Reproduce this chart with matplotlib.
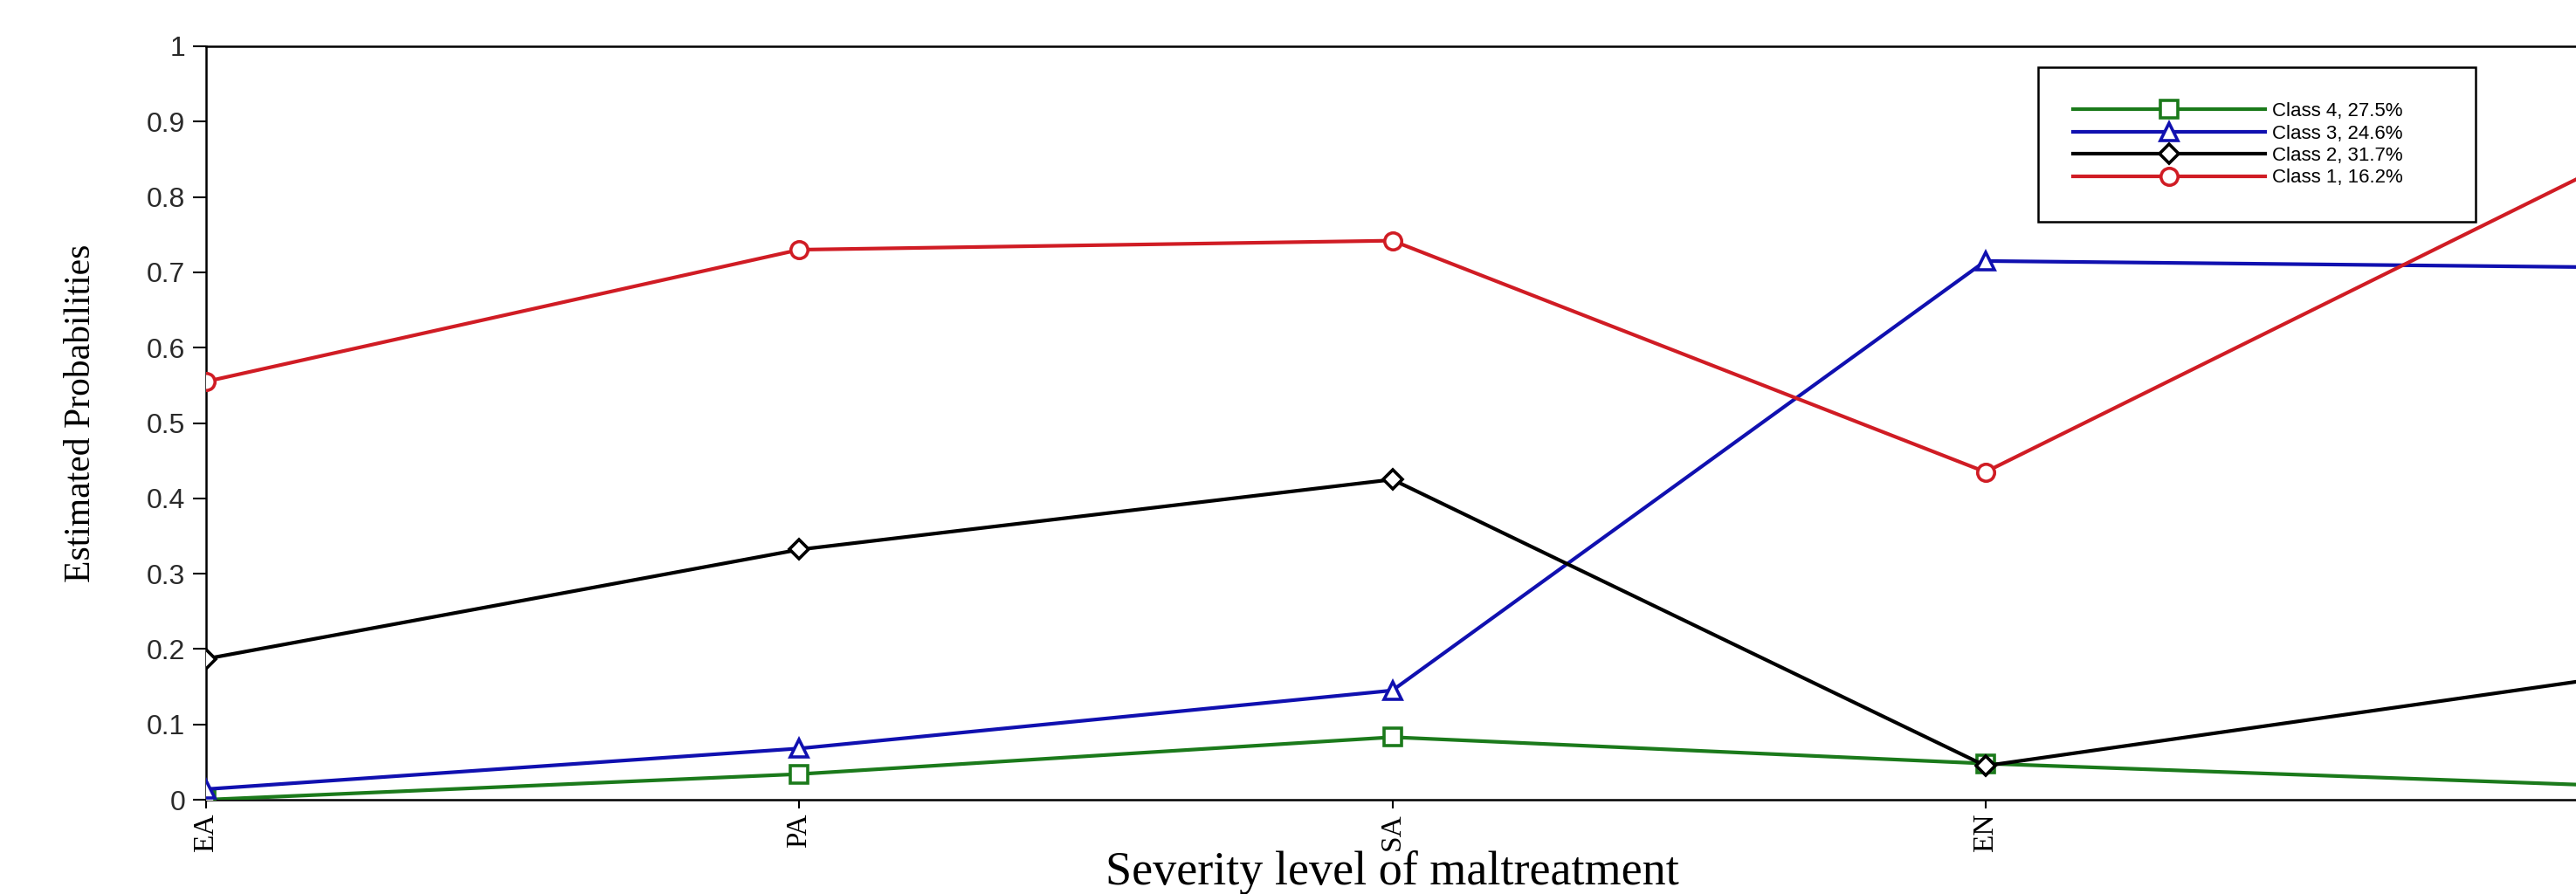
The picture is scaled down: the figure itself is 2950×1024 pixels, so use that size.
import matplotlib
matplotlib.use("Agg")
import matplotlib.pyplot as plt

# ---- data ----
categories = ["EA", "PA", "SA", "EN", "PN"]
class1 = [0.555, 0.730, 0.742, 0.435, 0.825]
class2 = [0.187, 0.332, 0.425, 0.045, 0.157]
class3 = [0.014, 0.068, 0.145, 0.715, 0.707]
class4 = [0.000, 0.034, 0.083, 0.048, 0.020]
labels = ["Class 1, 16.2%", "Class 2, 31.7%", "Class 3, 24.6%", "Class 4, 27.5%"]
yticks = [0, 0.1, 0.2, 0.3, 0.4, 0.5, 0.6, 0.7, 0.8, 0.9, 1]
ytick_labels = ["0", "0.1", "0.2", "0.3", "0.4", "0.5", "0.6", "0.7", "0.8", "0.9", "1"]
xlabel = "Severity level of maltreatment"
ylabel = "Estimated Probabilities"

W, H = 2950, 1024
fig = plt.figure(figsize=(W / 100, H / 100), dpi=100)
fig.patch.set_facecolor("white")
ax = fig.add_axes([236 / W, 1 - 916 / H, 2717 / W, 863 / H])

x = list(range(len(categories)))
red, black, blue, green = "#d01c24", "#000000", "#1010b0", "#1b7a1b"
lw = 3.0
ms = 14
mew = 2.6
mev = [0, 1, 2, 3]

h4, = ax.plot(x, class4, color=green, lw=lw, marker="s", ms=ms, mfc="white",
              mec=green, mew=mew, markevery=mev, label=labels[3], zorder=3)
h3, = ax.plot(x, class3, color=blue, lw=lw, marker="^", ms=ms, mfc="white",
              mec=blue, mew=mew, markevery=mev, label=labels[2], zorder=3)
h2, = ax.plot(x, class2, color=black, lw=lw, marker="D", ms=ms - 3, mfc="white",
              mec=black, mew=mew, markevery=mev, label=labels[1], zorder=3)
h1, = ax.plot(x, class1, color=red, lw=lw, marker="o", ms=ms, mfc="white",
              mec=red, mew=mew, markevery=mev, label=labels[0], zorder=3)

ax.set_xlim(0, len(categories) - 1)
ax.set_ylim(0, 1)

# the last category sits on the (cropped) right edge, its label is not visible
ax.set_xticks(x[:-1])
ax.set_xticklabels(categories[:-1], rotation=90, family="Liberation Serif",
                   fontsize=24, color="black")
ax.set_yticks(yticks)
ax.set_yticklabels(ytick_labels, family="Liberation Sans", fontsize=23,
                   color="#2a2a2a")
ax.tick_params(axis="y", direction="out", length=11, width=1.5, pad=6)
ax.tick_params(axis="x", direction="out", length=7, width=1.5, pad=4)

for s in ax.spines.values():
    s.set_linewidth(1.8)
    s.set_color("black")

leg = ax.legend(handles=[h4, h3, h2, h1], loc="upper left",
                bbox_to_anchor=(0.772, 0.0, 0.1846, 0.972), mode="expand",
                prop={"family": "Liberation Sans", "size": 16},
                handlelength=9.9, handletextpad=0.36, labelspacing=0.2,
                borderpad=1.8, borderaxespad=0, fancybox=False, framealpha=1,
                edgecolor="black", numpoints=1)
leg.get_frame().set_linewidth(1.8)

fig.text(93 / W, 1 - 473 / H, ylabel, rotation=90, ha="center", va="center",
         family="Liberation Serif", fontsize=30, color="black")
fig.text((236 + 2953) / 2 / W, 1 - 1013 / H, xlabel, ha="center", va="baseline",
         family="Liberation Serif", fontsize=39, color="black")

fig.savefig("out.png", dpi=100, facecolor="white")
